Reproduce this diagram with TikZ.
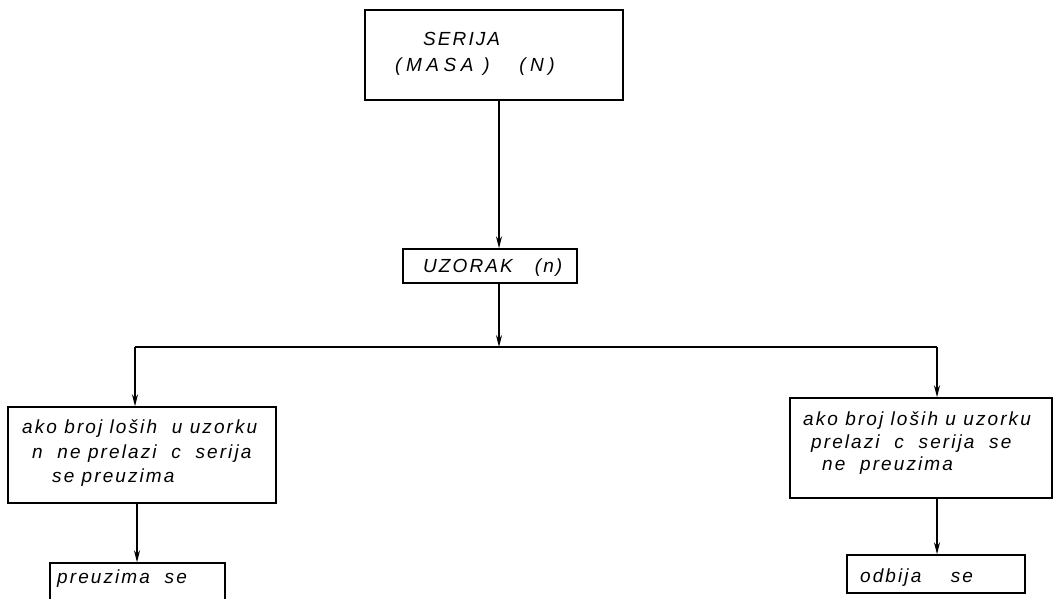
\documentclass[tikz,border=0pt]{standalone}
\usepackage{fontspec}
\setmainfont{Liberation Sans}
\newfontfamily\lett{Liberation Sans}[LetterSpace=11]
\newfontfamily\lettwide{Liberation Sans}[LetterSpace=24]
\usetikzlibrary{arrows.meta}
\begin{document}
\begin{tikzpicture}[x=1pt,y=-1pt,
  box/.style={draw, line width=1.5pt, inner sep=0pt},
  lbl/.style={anchor=base west, inner sep=0pt, font=\lett\itshape\fontsize{19}{22}\selectfont},
  wlbl/.style={lbl, font=\lettwide\itshape\fontsize{19}{22}\selectfont},
  conn/.style={line width=1.3pt, -{Stealth[length=12pt,width=6pt]}},
  wire/.style={line width=1.3pt}]
\useasboundingbox (0,0) rectangle (1055,598);
\clip (0,0) rectangle (1055,598);

% boxes
\node[box, minimum width=258pt, minimum height=90pt] (serija) at (494,55) {};
\node[box, minimum width=174pt, minimum height=34pt] (uzorak) at (490,266) {};
\node[box, minimum width=268pt, minimum height=96pt] (leftbox) at (142,455) {};
\node[box, minimum width=175pt, minimum height=74pt] (preuz) at (137.5,600) {};
\node[box, minimum width=262pt, minimum height=100pt] (rightbox) at (921,448) {};
\node[box, minimum width=178pt, minimum height=38pt] (odbija) at (936,574) {};

% texts
\node[lbl] (t1) at (423,45) {SERIJA};
\node[wlbl] (t2) at (395,71) {(MASA )\ \ \ (N)};
\node[lbl] (t3) at (423,272) {UZORAK\ \ \ (n)};
\node[lbl] (l1) at (22,433) {ako\ broj\ loših\ \ u\ uzorku};
\node[lbl] (l2) at (32,458) {n\ \ ne\ prelazi\ \ c\ \ serija};
\node[lbl] (l3) at (52,482) {se\ preuzima};
\node[lbl] (l4) at (57,583) {preuzima\ \ se};
\node[lbl] (r1) at (803,425) {ako\ broj\ loših\ u\ uzorku};
\node[lbl] (r2) at (811,448) {prelazi\ \ c\ \ serija\ \ se};
\node[lbl] (r3) at (822,470) {ne\ \ preuzima};
\node[lbl] (r4) at (860,582) {odbija\ \ \ \ se};

% connectors
\coordinate (trunk) at (499,0);
\coordinate (bl) at (135,347);
\coordinate (br) at (937,347);
\coordinate (lx) at (137,0);
\draw[conn] (serija.south -| trunk) -- (uzorak.north -| trunk);
\draw[conn] (uzorak.south -| trunk) -- (trunk |- bl);
\draw[wire] (bl) -- (br);
\draw[conn] (bl) -- (bl |- leftbox.north);
\draw[conn] (br) -- (br |- rightbox.north);
\draw[conn] (leftbox.south -| lx) -- (preuz.north -| lx);
\draw[conn] (rightbox.south -| br) -- (odbija.north -| br);
\end{tikzpicture}
\end{document}
